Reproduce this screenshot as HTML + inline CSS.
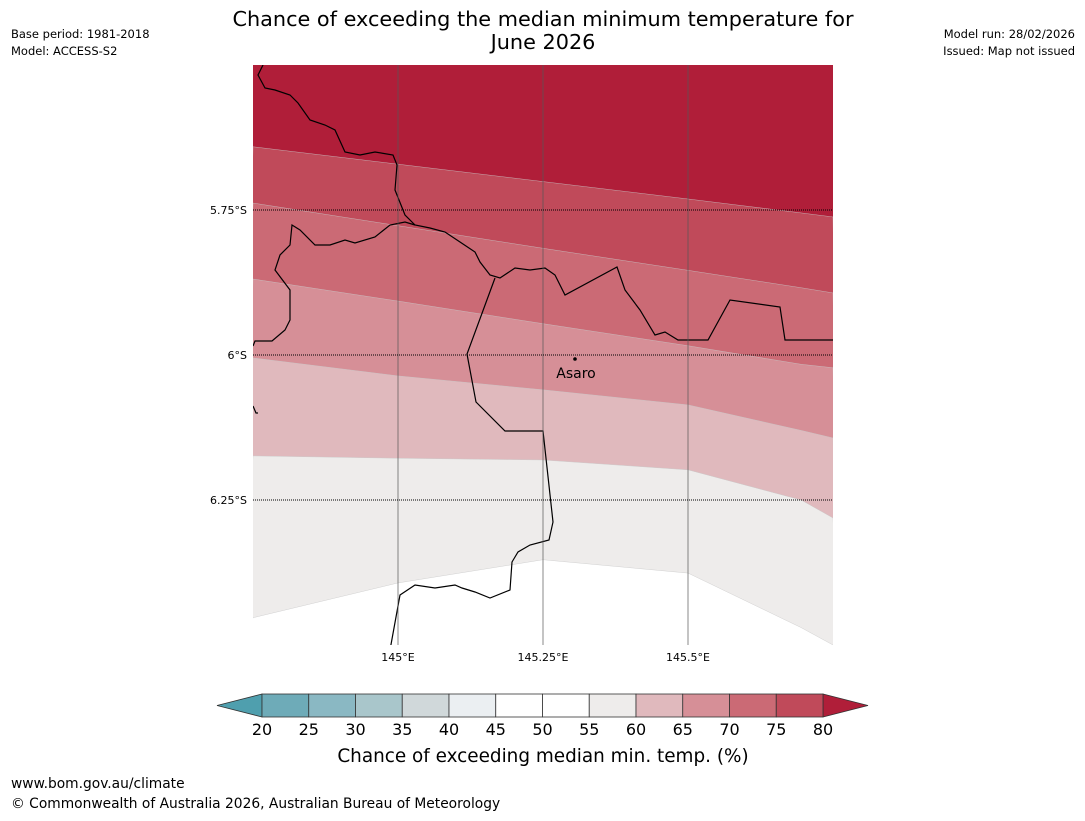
<!DOCTYPE html>
<html><head><meta charset="utf-8"><style>
body{margin:0;width:1085px;height:816px;background:#fff;font-family:"Liberation Sans","DejaVu Sans",sans-serif;overflow:hidden}
svg text{font-family:"DejaVu Sans","Liberation Sans",sans-serif}
</style></head><body>
<svg id="chart" width="1085" height="816" viewBox="0 0 1085 816" xmlns="http://www.w3.org/2000/svg">
<text x="543" y="26" font-size="20.8" text-anchor="middle">Chance of exceeding the median minimum temperature for</text>
<text x="543" y="49" font-size="20.8" text-anchor="middle">June 2026</text>
<text x="11" y="38" font-size="11.5">Base period: 1981-2018</text>
<text x="11" y="55" font-size="11.5">Model: ACCESS-S2</text>
<text x="1075" y="38" font-size="11.5" text-anchor="end">Model run: 28/02/2026</text>
<text x="1075" y="55" font-size="11.5" text-anchor="end">Issued: Map not issued</text>
<defs><clipPath id="mapclip"><rect x="253" y="65" width="580" height="580"/></clipPath></defs>
<g id="map" clip-path="url(#mapclip)"></g>
<g id="axes"></g>
<g id="cbar"></g>
<text x="543" y="762" font-size="18.4" text-anchor="middle">Chance of exceeding median min. temp. (%)</text>
<text x="11" y="788" font-size="13.8">www.bom.gov.au/climate</text>
<text x="11" y="808" font-size="13.8">© Commonwealth of Australia 2026, Australian Bureau of Meteorology</text>
</svg>
<script>
const NS="http://www.w3.org/2000/svg";
const lons=[144.75,145,145.25,145.5,145.695,145.75];
const b80=[5.641,5.671,5.701,5.731,5.755,5.762];
const b75=[5.738,5.777,5.816,5.854,5.884,5.893];
const b70=[5.869,5.907,5.946,5.984,6.016,6.022];
const b65=[6.005,6.036,6.060,6.086,6.130,6.143];
const b60=[6.174,6.178,6.181,6.198,6.250,6.281];
const b55=[6.453,6.393,6.353,6.376,6.470,6.500];
const lonTicks=[145,145.25,145.5];
const lonLabels=["145°E","145.25°E","145.5°E"];
const latTicks=[5.75,6,6.25];
const latLabels=["5.75°S","6°S","6.25°S"];
const cbLevels=[20,25,30,35,40,45,50,55,60,65,70,75,80];
const cbColors=["#6eabb8","#8ab8c3","#a9c6cb","#d0d8da","#ebeff2","#ffffff","#ffffff","#eeeceb","#e0b9bd","#d68f97","#cb6a75","#c04a5a"];
const cbLow="#4f9fae", cbHigh="#b01e39";
const X=lon=>253+(lon-144.75)*580;
const Y=lat=>65+(lat-5.5)*580;
function el(t,a,p){const e=document.createElementNS(NS,t);for(const k in a)e.setAttribute(k,a[k]);p.appendChild(e);return e;}
const map=document.getElementById('map');
const bg=el('rect',{x:253,y:65,width:580,height:580,fill:"#b01e39"},map);


const bands=[[b80,"#c04a5a","band-70-75"],[b75,"#cb6a75","band-65-70"],[b70,"#d68f97","band-60-65"],[b65,"#e0b9bd","band-55-60"],[b60,"#eeeceb","band-50-55"],[b55,"#ffffff","band-below-50"]];
bands.forEach(([b,c,n])=>{
  let d=lons.map((l,i)=>(i?'L':'M')+X(l)+','+Y(b[i])).join('')+'L840,660L240,660Z';
  const p=el('path',{d:d,fill:c,stroke:"#c8c8c8","stroke-width":0.4},map);
  
  
});
const coast1=[[263,65],[258,75],[265,88],[275,90],[290,95],[298,103],[310,120],[325,125],[335,130],[345,152],[360,155],[375,152],[393,155],[397,165],[395,190],[405,215],[415,225],[430,228],[445,232],[460,242],[475,252],[480,262],[490,275],[500,278],[515,268],[530,270],[545,268],[555,275],[565,295],[617,267],[625,290],[640,310],[655,335],[665,332],[678,340],[708,340],[730,300],[780,307],[785,340],[840,340]];
const coast2=[[495,278],[467,354],[476,402],[505,431],[543,431],[553,522],[549,540],[530,545],[518,552],[512,562],[510,590],[490,598],[475,592],[462,588],[455,585],[435,588],[415,585],[400,595],[390,650]];
const coast3=[[253,346],[255,341],[272,341],[285,330],[290,320],[290,290],[275,270],[280,255],[290,245],[292,225],[300,230],[315,245],[330,245],[345,240],[355,243],[375,237],[390,225],[405,222],[415,225]];
const coast4=[[253,406],[256,413],[258,413]];
[[coast1,'coastline-north'],[coast2,'province-border'],[coast3,'coastline-west'],[coast4,'coastline-fragment']].forEach(([c,n])=>{
  const p=el('polyline',{points:c.map(q=>q.join(',')).join(' '),fill:"none",stroke:"#000","stroke-width":1.2},map);
  
  
});
const ax=document.getElementById('axes');
lonTicks.forEach((l,i)=>{
  const g=el('line',{x1:X(l),x2:X(l),y1:65,y2:645,stroke:"#555","stroke-opacity":0.7,"stroke-width":1},ax);
  
  
  const t=el('text',{x:X(l),y:661,"font-size":11,"text-anchor":"middle"},ax);t.textContent=lonLabels[i];
  
  
});
latTicks.forEach((l,i)=>{
  const g=el('line',{x1:253,x2:833,y1:Y(l),y2:Y(l),stroke:"#000","stroke-width":1,"stroke-dasharray":"1,1"},ax);
  
  
  const t=el('text',{x:247,y:Y(l)+4,"font-size":11,"text-anchor":"end"},ax);t.textContent=latLabels[i];
  
  
});
const dot=el('circle',{cx:575,cy:359,r:1.8,fill:"#000"},ax);


const at=el('text',{x:576,y:378,"font-size":14,"text-anchor":"middle"},ax);at.textContent="Asaro";


const cb=document.getElementById('cbar');
const cx0=262,cx1=823,cy=694,ch=23,w=(cx1-cx0)/(cbLevels.length-1);
const lt=el('polygon',{points:`${cx0},${cy} 217,${cy+ch/2} ${cx0},${cy+ch}`,fill:cbLow,stroke:"#333","stroke-width":0.8},cb);


const rt=el('polygon',{points:`${cx1},${cy} 868,${cy+ch/2} ${cx1},${cy+ch}`,fill:cbHigh,stroke:"#333","stroke-width":0.8},cb);


cbColors.forEach((c,i)=>{
  const r=el('rect',{x:cx0+i*w,y:cy,width:w,height:ch,fill:c,stroke:"#333","stroke-width":0.8},cb);
  
  
});
cbLevels.forEach((v,i)=>{
  const t=el('text',{x:cx0+i*w,y:735,"font-size":16,"text-anchor":"middle"},cb);t.textContent=v;
  
  
});
</script>
</body></html>
